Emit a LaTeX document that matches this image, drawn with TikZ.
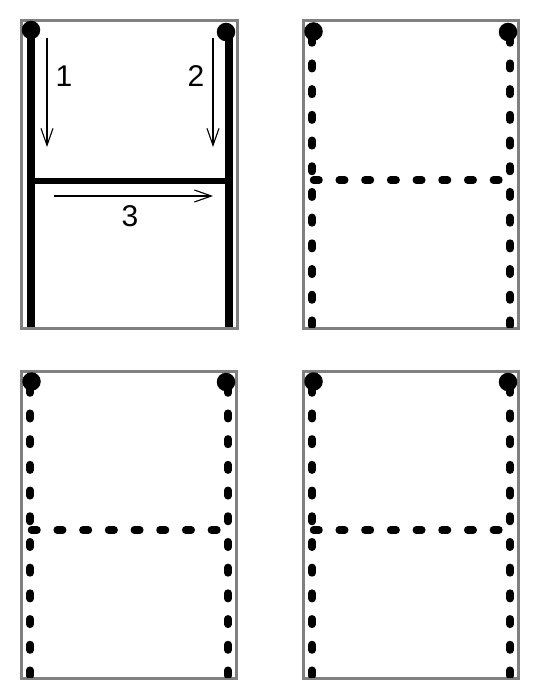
\documentclass[tikz,border=0pt]{standalone}
\usepackage{fontspec}
\setmainfont{Liberation Sans}
\usetikzlibrary{arrows.meta}
\definecolor{framegray}{RGB}{128,128,128}
\newcommand\dashedpanel[3]{%
  \begin{scope}[shift={(#2,#3)}]
    \draw[framebox] (303,21) rectangle (518.5,328.5);
    \coordinate (#1lt) at (312,37.5);
    \coordinate (#1lb) at (312,345);
    \coordinate (#1rt) at (510,37.5);
    \coordinate (#1rb) at (510,345);
    \coordinate (#1hl) at (313.5,180);
    \coordinate (#1hr) at (509,180);
    \begin{scope}
      \clip (304.5,22.5) rectangle (517,327);
      \draw[dashbar] (#1lt) -- (#1lb);
      \draw[dashbar] (#1rt) -- (#1rb);
      \draw[dashbar] (#1hl) -- (#1hr);
    \end{scope}
    \node[pin] (#1dotL) at (313.5,31.5) {};
    \node[pin] (#1dotR) at (508,32) {};
  \end{scope}%
}
\begin{document}
\begin{tikzpicture}[x=1pt,y=-1pt,
  framebox/.style={draw=framegray, line width=3pt},
  solidbar/.style={line width=7.5pt},
  dashbar/.style={line width=7.5pt, line cap=round, dash pattern=on 5.5pt off 20.2pt},
  pin/.style={circle, fill=black, inner sep=0pt, minimum size=18.5pt},
  flow/.style={line width=1.1pt, -{Straight Barb[length=17pt,width=12pt]}},
  num/.style={font=\fontsize{30}{32}\selectfont, inner sep=0pt}
]
\useasboundingbox (0,0) rectangle (540,700);

% Panel 1
\draw[framebox] (21.5,21) rectangle (237,328.5);
\coordinate (lt) at (31,30);
\coordinate (lb) at (31,327);
\coordinate (rt) at (229,32);
\coordinate (rb) at (229,327);
\coordinate (hl) at (31,181);
\coordinate (hr) at (229,181);
\draw[solidbar] (lt) -- (lb);
\draw[solidbar] (rt) -- (rb);
\draw[solidbar, line width=6.5pt] (hl) -- (hr);
\node[pin] (dotL) at (31,30) {};
\node[pin] (dotR) at (226,32) {};

\coordinate (a1s) at (47,38);
\coordinate (a1e) at (47,147);
\coordinate (a2s) at (213,38);
\coordinate (a2e) at (213,147);
\coordinate (a3s) at (54,196);
\coordinate (a3e) at (213,196);
\draw[flow] (a1s) -- (a1e);
\draw[flow] (a2s) -- (a2e);
\draw[flow] (a3s) -- (a3e);
\node[num] (n1) at (64,76) {1};
\node[num] (n2) at (196,76) {2};
\node[num] (n3) at (130,216) {3};

% Panels 2-4
\dashedpanel{pb}{0}{0}
\dashedpanel{pc}{-282}{350}
\dashedpanel{pd}{0}{350}
\end{tikzpicture}
\end{document}
